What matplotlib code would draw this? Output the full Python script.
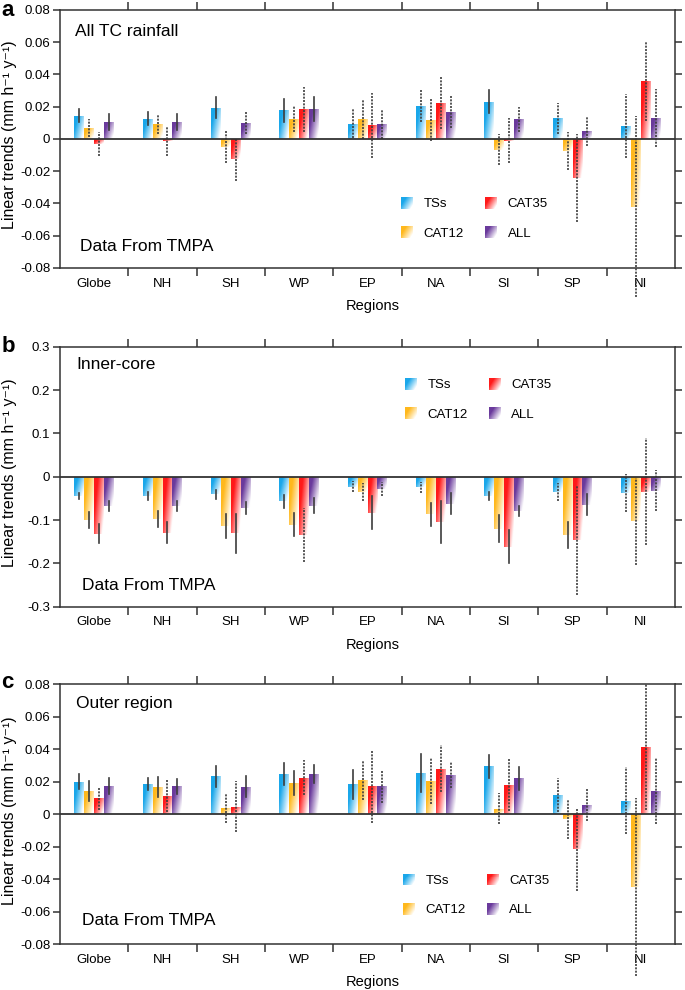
import numpy as np
import matplotlib
matplotlib.use("Agg")
import matplotlib.pyplot as plt
from matplotlib.patches import Patch, Rectangle
from matplotlib.legend_handler import HandlerBase
from matplotlib.colors import to_rgb

plt.rcParams['font.family'] = ['Liberation Sans', 'DejaVu Sans']
plt.rcParams['axes.unicode_minus'] = False

# === DATA ===
regions = ['Globe', 'NH', 'SH', 'WP', 'EP', 'NA', 'SI', 'SP', 'NI']
series = ['TSs', 'CAT12', 'CAT35', 'ALL']
colors = ['#1aa7ea', '#ffb81c', '#ff1a1a', '#6a3a9c']

# panel a: all TC rainfall (rows = TSs, CAT12, CAT35, ALL)
a_trend = [
    [0.0144, 0.0127, 0.0195, 0.0178, 0.0096, 0.0205, 0.0232, 0.0129, 0.0080],
    [0.0068, 0.0092, -0.0051, 0.0123, 0.0123, 0.0119, -0.0066, -0.0075, -0.0420],
    [-0.0030, -0.0012, -0.0127, 0.0185, 0.0086, 0.0224, -0.0010, -0.0242, 0.0357],
    [0.0107, 0.0103, 0.0098, 0.0185, 0.0092, 0.0170, 0.0123, 0.0049, 0.0133],
]
a_err = [
    [0.0040, 0.0040, 0.0064, 0.0070, 0.0092, 0.0100, 0.0069, 0.0097, 0.0197],
    [0.0057, 0.0058, 0.0098, 0.0080, 0.0123, 0.0130, 0.0095, 0.0118, 0.0560],
    [0.0075, 0.0095, 0.0136, 0.0139, 0.0202, 0.0160, 0.0138, 0.0270, 0.0247],
    [0.0050, 0.0050, 0.0070, 0.0073, 0.0094, 0.0103, 0.0077, 0.0094, 0.0180],
]
a_sig = [
    [1, 1, 1, 1, 0, 0, 1, 0, 0],
    [0, 0, 0, 0, 0, 0, 0, 0, 0],
    [0, 0, 0, 0, 0, 0, 0, 0, 0],
    [1, 1, 0, 1, 0, 0, 0, 0, 0],
]

# panel b: inner-core
b_trend = [
    [-0.0438, -0.0450, -0.0410, -0.0570, -0.0230, -0.0246, -0.0438, -0.0346, -0.0385],
    [-0.1000, -0.0977, -0.1130, -0.1110, -0.0346, -0.0870, -0.1200, -0.1350, -0.1030],
    [-0.1315, -0.1290, -0.1310, -0.1346, -0.0830, -0.1050, -0.1615, -0.1470, -0.0346],
    [-0.0677, -0.0677, -0.0715, -0.0670, -0.0277, -0.0620, -0.0790, -0.0650, -0.0320],
]
b_err = [
    [0.0070, 0.0090, 0.0100, 0.0142, 0.0125, 0.0125, 0.0096, 0.0210, 0.0440],
    [0.0180, 0.0190, 0.0277, 0.0270, 0.0210, 0.0260, 0.0310, 0.0296, 0.1000],
    [0.0220, 0.0250, 0.0450, 0.0615, 0.0385, 0.0485, 0.0377, 0.1250, 0.1230],
    [0.0105, 0.0110, 0.0135, 0.0175, 0.0160, 0.0250, 0.0110, 0.0245, 0.0480],
]
b_sig = [
    [1, 1, 1, 1, 0, 0, 1, 0, 0],
    [1, 1, 1, 1, 0, 1, 1, 1, 0],
    [1, 1, 1, 0, 1, 1, 1, 0, 0],
    [1, 1, 1, 1, 0, 1, 1, 1, 0],
]

# panel c: outer region
c_trend = [
    [0.0201, 0.0187, 0.0234, 0.0248, 0.0185, 0.0256, 0.0295, 0.0121, 0.0084],
    [0.0142, 0.0168, 0.0039, 0.0191, 0.0209, 0.0205, 0.0035, -0.0030, -0.0447],
    [0.0098, 0.0115, 0.0047, 0.0226, 0.0172, 0.0281, 0.0178, -0.0216, 0.0414],
    [0.0174, 0.0172, 0.0170, 0.0248, 0.0172, 0.0244, 0.0222, 0.0057, 0.0144],
]
c_err = [
    [0.0046, 0.0038, 0.0065, 0.0065, 0.0089, 0.0117, 0.0072, 0.0105, 0.0205],
    [0.0060, 0.0059, 0.0092, 0.0073, 0.0123, 0.0144, 0.0093, 0.0120, 0.0550],
    [0.0072, 0.0098, 0.0157, 0.0110, 0.0226, 0.0144, 0.0160, 0.0256, 0.0386],
    [0.0047, 0.0047, 0.0064, 0.0055, 0.0100, 0.0080, 0.0070, 0.0101, 0.0205],
]
c_sig = [
    [1, 1, 1, 1, 1, 1, 1, 0, 0],
    [1, 1, 0, 1, 0, 0, 0, 0, 0],
    [0, 0, 0, 0, 0, 0, 0, 0, 0],
    [1, 1, 1, 1, 0, 0, 1, 0, 0],
]

BAR_W = 0.145
OFFSETS = [-1.5 * BAR_W, -0.5 * BAR_W, 0.5 * BAR_W, 1.5 * BAR_W]
INK = '#333333'


def gradient(color, nx=24, ny=48):
    # saturated at the top-left corner, fading to white to the right and downwards
    u = np.linspace(0, 1, nx)[None, :]
    v = np.linspace(0, 1, ny)[:, None]
    c = np.clip(1.4 - 0.95 * u - 0.6 * v, 0, 1)
    rgb = np.array(to_rgb(color))
    return 1 - c[..., None] * (1 - rgb)


class GradHandler(HandlerBase):
    def create_artists(self, legend, orig_handle, xdescent, ydescent,
                       width, height, fontsize, trans):
        n = 12
        img = gradient(orig_handle.get_facecolor()[:3], nx=n, ny=n)
        arts = []
        for j in range(n):
            for i in range(n):
                r = Rectangle((-xdescent + i * width / n,
                               -ydescent + height - (j + 1) * height / n),
                              width / n, height / n, facecolor=img[j, i],
                              edgecolor='none', lw=0, antialiased=False,
                              transform=trans)
                arts.append(r)
        return arts


def draw_panel(ax, trend, err, sig, ylim, yticks, ylabels, title, title_pos,
               src_pos, leg_pos):
    x = np.arange(len(regions)) + 0.5
    handles = []
    for k, name in enumerate(series):
        xs = x + OFFSETS[k]
        bars = ax.bar(xs, trend[k], width=BAR_W, color='none',
                      edgecolor='none', zorder=2)
        img = gradient(colors[k])
        for rect in bars:
            x0, y0, h = rect.get_x(), rect.get_y(), rect.get_height()
            lo, hi = min(y0, y0 + h), max(y0, y0 + h)
            im = ax.imshow(img, extent=(x0, x0 + rect.get_width(), lo, hi),
                           origin='upper', aspect='auto',
                           interpolation='bilinear', zorder=2)
            im.set_clip_path(rect)
        for xi, v, e, s in zip(xs, trend[k], err[k], sig[k]):
            ax.plot([xi, xi], [v - e, v + e], color='#3c3c3c', lw=1.2,
                    ls='-' if s else (0, (1.2, 0.8)), clip_on=False, zorder=3)
        handles.append(Patch(facecolor=colors[k], label=name))

    ax.axhline(0, color=INK, lw=1.3, zorder=4)
    ax.set_xlim(0, 9)
    ax.set_ylim(*ylim)
    ax.set_aspect('auto')

    ax.set_xticks(range(1, 9))
    ax.set_xticklabels([])
    ax.set_xticks(x, minor=True)
    ax.set_xticklabels(regions, minor=True)
    ax.tick_params(axis='x', which='major', direction='out', length=5.5,
                   width=1.1, color=INK, top=True, bottom=True)
    ax.tick_params(axis='x', which='minor', length=0, pad=7, labelsize=9.5)
    ax.set_yticks(yticks)
    ax.set_yticklabels(ylabels)
    ax.tick_params(axis='y', direction='out', length=5, width=1.1, color=INK,
                   left=True, right=True, labelright=False, pad=2,
                   labelsize=9.5)
    for sp in ax.spines.values():
        sp.set_linewidth(1.1)
        sp.set_color(INK)

    ax.set_ylabel('Linear trends (mm h\u207b\u00b9 y\u207b\u00b9)', fontsize=11.5)
    ax.yaxis.set_label_coords(-0.07, 0.515)
    ax.set_xlabel('Regions', fontsize=10.5)
    ax.xaxis.set_label_coords(0.509, -0.12)

    ax.text(title_pos[0], title_pos[1], title, transform=ax.transAxes,
            fontsize=12.5, ha='left', va='center')
    ax.text(src_pos[0], src_pos[1], 'Data From TMPA', transform=ax.transAxes,
            fontsize=12.5, ha='left', va='center')
    ax.legend(handles=handles, ncol=2, loc='upper left', bbox_to_anchor=leg_pos,
              frameon=False, fontsize=9.5, handler_map={Patch: GradHandler()},
              handlelength=0.9, handleheight=1.0, handletextpad=0.8,
              columnspacing=1.6, labelspacing=1.2, borderpad=0,
              borderaxespad=0)


fig = plt.figure(figsize=(6.85, 9.9), dpi=100)
left, width = 60 / 685, 615 / 685
ax_a = fig.add_axes([left, 0.7293, width, 0.2606])
ax_b = fig.add_axes([left, 0.3872, width, 0.2626])
ax_c = fig.add_axes([left, 0.0462, width, 0.2626])

ticks_small = [0.08, 0.06, 0.04, 0.02, 0, -0.02, -0.04, -0.06, -0.08]
labels_small = ['0.08', '0.06', '0.04', '0.02', '0', '-0.02', '-0.04', '-0.06', '-0.08']
ticks_big = [0.3, 0.2, 0.1, 0, -0.1, -0.2, -0.3]
labels_big = ['0.3', '0.2', '0.1', '0', '-0.1', '-0.2', '-0.3']

draw_panel(ax_a, a_trend, a_err, a_sig, (-0.08, 0.08), ticks_small, labels_small,
           'All TC rainfall', (0.024, 0.915), (0.032, 0.083), (0.555, 0.275))
draw_panel(ax_b, b_trend, b_err, b_sig, (-0.3, 0.3), ticks_big, labels_big,
           'Inner-core', (0.026, 0.933), (0.036, 0.083), (0.561, 0.88))
draw_panel(ax_c, c_trend, c_err, c_sig, (-0.08, 0.08), ticks_small, labels_small,
           'Outer region', (0.026, 0.928), (0.036, 0.091), (0.558, 0.272))

for letter, yb in [('a', 0.9838), ('b', 0.6444), ('c', 0.305)]:
    fig.text(0.002, yb, letter, fontsize=16, fontweight='bold', va='baseline')

fig.savefig('out.png', dpi=100)
